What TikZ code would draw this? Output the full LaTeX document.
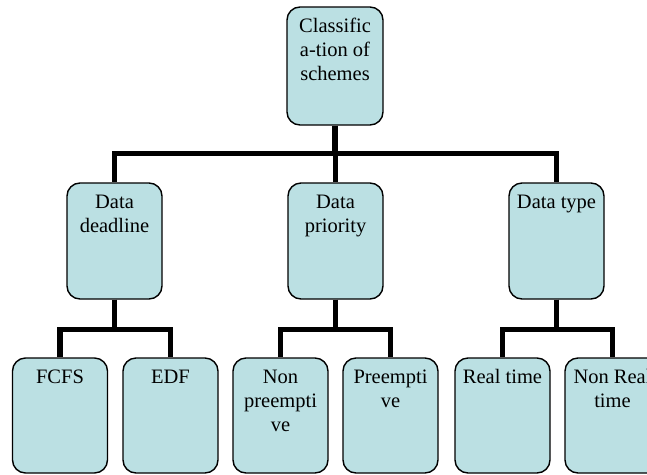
\documentclass[tikz,border=0pt]{standalone}
\usepackage{fontspec}
\setmainfont{Liberation Serif}
\pgfdeclarelayer{background}
\pgfsetlayers{background,main}
\definecolor{boxfill}{RGB}{187,224,227}
\tikzset{
  x=1pt,y=1pt,
  box/.style={draw=black, line width=1.4pt, fill=boxfill, rounded corners=13pt,
    inner sep=0pt, font=\fontsize{20.5}{24}\selectfont},
  conn/.style={draw=black, line width=5.5pt, line join=miter, line cap=butt}
}
\newcommand{\boxtext}[3]{\parbox[t][#1][t]{#2}{\centering\rule{0pt}{25pt}#3}}
\begin{document}
\begin{tikzpicture}
\useasboundingbox (0,0) rectangle (647,-474);
% top
\node[box] (top) at (335,-66) {\boxtext{118pt}{96pt}{Classific\\a-tion of\\schemes}};
% level 2
\node[box] (dd) at (114.5,-241) {\boxtext{116pt}{95pt}{Data\\deadline}};
\node[box] (dp) at (335.5,-241) {\boxtext{116pt}{95pt}{Data\\priority}};
\node[box] (dt) at (556.5,-241) {\boxtext{116pt}{95pt}{Data type}};
% level 3
\node[box] (fcfs) at (60,-415.5) {\boxtext{115pt}{95pt}{FCFS}};
\node[box] (edf) at (170.5,-415.5) {\boxtext{115pt}{95pt}{EDF}};
\node[box] (np) at (280.5,-415.5) {\boxtext{115pt}{95pt}{Non\\preempti\\ve}};
\node[box] (pe) at (390.5,-415.5) {\boxtext{115pt}{95pt}{Preempti\\ve}};
\node[box] (rt) at (502.5,-415.5) {\boxtext{115pt}{95pt}{Real time}};
\node[box] (nrt) at (612.5,-415.5) {\boxtext{115pt}{95pt}{Non Real\\time}};
\begin{pgfonlayer}{background}
\foreach \c in {dd,dp,dt}{\draw[conn] (top.south) -- ++(0,-28) -| (\c.north);}
\foreach \c in {fcfs,edf}{\draw[conn] (dd.south) -- ++(0,-30) -| (\c.north);}
\foreach \c in {np,pe}{\draw[conn] (dp.south) -- ++(0,-30) -| (\c.north);}
\foreach \c in {rt,nrt}{\draw[conn] (dt.south) -- ++(0,-30) -| (\c.north);}
\end{pgfonlayer}
\end{tikzpicture}
\end{document}
